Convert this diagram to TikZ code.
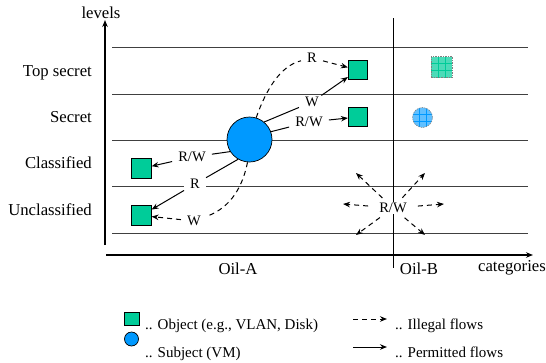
\documentclass[tikz,border=0pt]{standalone}
\usepackage{fontspec}
\setmainfont{Liberation Serif}
\usetikzlibrary{shapes,arrows,arrows.meta,positioning,calc}

\definecolor{objgreen}{RGB}{0,204,153}
\definecolor{subjblue}{RGB}{0,153,255}

\begin{document}
\begin{tikzpicture}[x=1pt,y=-1pt,>={Stealth[length=7pt,width=5.5pt]},
    obj/.style={draw,rectangle,fill=objgreen,minimum size=19.5pt,inner sep=0pt,line width=0.7pt},
    subj/.style={draw,circle,fill=subjblue,minimum size=45pt,inner sep=0pt,line width=0.7pt},
    hatch/.style={draw=gray,dash pattern=on 1.5pt off 1pt,line width=0.5pt,inner sep=0pt,
        path picture={\foreach \d in {-3.5,3.5} {
            \draw[#1,solid,line width=0.6pt] ([xshift=\d pt]path picture bounding box.north) -- ([xshift=\d pt]path picture bounding box.south);
            \draw[#1,solid,line width=0.6pt] ([yshift=\d pt]path picture bounding box.west) -- ([yshift=\d pt]path picture bounding box.east);}}},
    lvl/.style={anchor=base east,inner sep=0pt,font=\fontsize{16.7}{20}\selectfont},
    axlbl/.style={anchor=base,inner sep=0pt,font=\fontsize{16.7}{20}\selectfont},
    flow/.style={fill=white,inner xsep=6pt,inner ysep=1.5pt,font=\fontsize{14.5}{17}\selectfont},
    legtxt/.style={anchor=base west,inner sep=0pt,font=\fontsize{15}{18}\selectfont},
    dashline/.style={dash pattern=on 5pt off 4pt,line width=1pt},
    illegal/.style={dashline,->},
    permitted/.style={->,line width=1pt}]
    \useasboundingbox (0,0) rectangle (546,362);

    % levels and axes
    \foreach \y in {47,94,140,186,233}
        \draw[black!75,line width=0.9pt] (112,\y) -- (528,\y);
    \coordinate (vbot) at (105,245);
    \coordinate (vtop) at (105,20);
    \coordinate (hleft) at (106,255);
    \coordinate (hright) at (533,255);
    \coordinate (septop) at (393,18);
    \coordinate (sepbot) at (393,268);
    \draw[->,line width=1.2pt] (vbot) -- (vtop);
    \draw[->,line width=1.2pt] (hleft) -- (hright);
    \draw[line width=0.9pt] (septop) -- (sepbot);

    \node[axlbl] (levels) at (101,18.5) {levels};
    \node[lvl] (topsec) at (92,76) {Top secret};
    \node[lvl] (sec) at (92,122.5) {Secret};
    \node[lvl] (cls) at (92,168.5) {Classified};
    \node[lvl] (uncls) at (92,215) {Unclassified};
    \node[axlbl] (oila) at (238,274) {Oil-A};
    \node[axlbl] (oilb) at (419,274) {Oil-B};
    \node[axlbl] (cats) at (512,271) {categories};

    % subject and objects
    \node[subj] (vm) at (249.5,139.5) {};
    \node[obj] (objC) at (141.5,168.5) {};
    \node[obj] (objU) at (141.5,215.5) {};
    \node[obj] (objT) at (358,70) {};
    \node[obj] (objS) at (358,117) {};
    \node[hatch=objgreen,fill=objgreen!70!white,rectangle,minimum size=21pt] (ghostobj) at (441.5,67) {};
    \node[hatch=subjblue,fill=subjblue!62!white,circle,minimum size=20pt] (ghostvm) at (422.5,117.5) {};

    % flows
    \node[flow] (rwC) at (192,157) {R/W};
    \node[flow] (rU) at (195,184) {R};
    \node[flow] (wU) at (194,221) {W};
    \node[flow] (rT) at (312,58) {R};
    \node[flow] (wT) at (312,102) {W};
    \node[flow] (rwS) at (309,122) {R/W};

    \draw[line width=1pt] (vm.212) -- (rwC);
    \draw[permitted] (rwC) -- (objC);
    \draw[line width=1pt] (vm.240) -- (rU);
    \draw[permitted] (rU) -- (objU);
    \draw[dashline] (vm.265) .. controls (243,185) and (232,207) .. (wU);
    \draw[illegal] (wU) -- (objU);
    \draw[dashline] (vm.73) .. controls (266,90) and (280,66) .. (rT);
    \draw[illegal] (rT) -- (objT);
    \draw[line width=1pt] (vm.50) -- (wT);
    \draw[permitted] (wT) -- (objT);
    \draw[line width=1pt] (vm.20) -- (rwS);
    \draw[permitted] (rwS) -- (objS);

    % cross-category flows
    \node[flow] (rwB) at (393,208) {R/W};
    \coordinate (tipul) at (356,173);
    \coordinate (tipur) at (425,173);
    \coordinate (tipl) at (343,204);
    \coordinate (tipr) at (444,204);
    \coordinate (tipdl) at (356,235);
    \coordinate (tipdr) at (425,235);
    \foreach \t in {ul,ur,l,r,dl,dr}
        \draw[illegal,shorten <=5pt] (rwB) -- (tip\t);

    % legend
    \node[obj,minimum width=15pt,minimum height=12.5pt] (lgobj) at (131.5,319) {};
    \node[subj,minimum size=14pt] (lgvm) at (131.5,339) {};
    \node[legtxt] (lgobjtxt) at (145,329) {.. Object (e.g., VLAN, Disk)};
    \node[legtxt] (lgvmtxt) at (145,357) {.. Subject (VM)};
    \coordinate (lgi1) at (353,319);
    \coordinate (lgi2) at (387,319);
    \coordinate (lgp1) at (353,347);
    \coordinate (lgp2) at (387,347);
    \draw[illegal] (lgi1) -- (lgi2);
    \draw[permitted] (lgp1) -- (lgp2);
    \node[legtxt] (lgitxt) at (395,329) {.. Illegal flows};
    \node[legtxt] (lgptxt) at (395,357) {.. Permitted flows};
\end{tikzpicture}
\end{document}
